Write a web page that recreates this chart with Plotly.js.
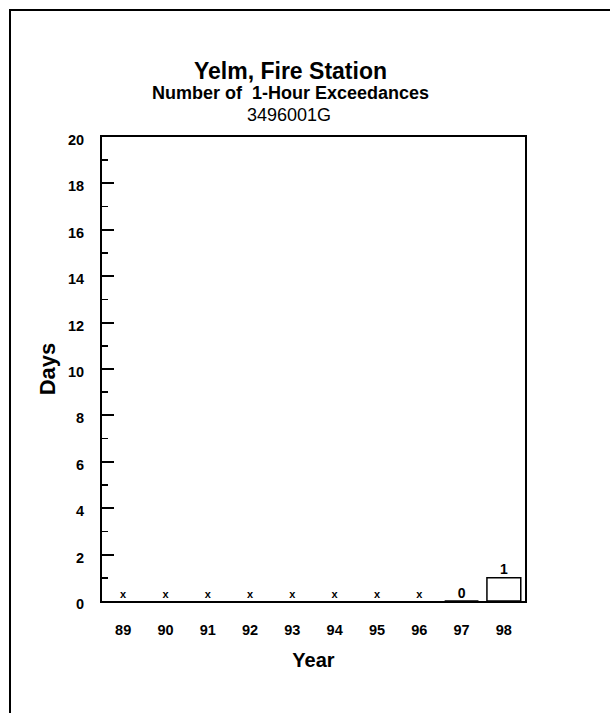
<!DOCTYPE html>
<html>
<head>
<meta charset="utf-8">
<script src="https://cdn.plot.ly/plotly-3.0.1.min.js"></script>
<style>
  html, body { margin: 0; padding: 0; background: #fff; }
  #chart { width: 610px; height: 713px; }
</style>
</head>
<body>
<div id="chart"></div>
<script>
// Exceedance counts per year (null = no data collected that year)
const years = ['89', '90', '91', '92', '93', '94', '95', '96', '97', '98'];
const days = [null, null, null, null, null, null, null, null, 0, 1];
const yTickVals = [0, 2, 4, 6, 8, 10, 12, 14, 16, 18, 20];

const FONT = 'Liberation Sans, Arial, sans-serif';

// plot area geometry (pixels)
const M = { l: 102, r: 85, t: 137, b: 112 };
const PW = 610 - M.l - M.r;
const PH = 713 - M.t - M.b;
const px2x = px => (px - M.l) / PW;
const px2y = py => 1 - (py - M.t) / PH;

// Labels: value for measured years, "x" for years with no data
const labelText = days.map(d => (d === null ? 'x' : String(d)));
const labelY = days.map(d => (d === null ? 0 : d));
const labelSize = days.map(d => (d === null ? 11 : 14));

const bars = {
  type: 'bar',
  x: years,
  y: days,
  width: 0.8,
  marker: { color: '#ffffff', line: { color: '#000000', width: 1.5 } },
  hoverinfo: 'skip'
};

const labels = {
  type: 'scatter',
  mode: 'text',
  x: years,
  y: labelY,
  text: labelText,
  textposition: 'top center',
  textfont: { family: FONT, size: labelSize, color: '#000', weight: 'bold' },
  hoverinfo: 'skip',
  cliponaxis: false
};

const layout = {
  width: 610,
  height: 713,
  margin: M,
  paper_bgcolor: '#ffffff',
  plot_bgcolor: '#ffffff',
  showlegend: false,
  font: { family: FONT, color: '#000' },
  xaxis: {
    type: 'category',
    range: [-0.5, 9.5],
    showline: true,
    linecolor: '#000',
    linewidth: 2,
    mirror: true,
    ticks: '',
    showgrid: false,
    zeroline: false,
    tickfont: { family: FONT, size: 14.5, color: '#000', weight: 'bold' },
    ticklabelstandoff: 15,
    title: {
      text: '<b>Year</b>',
      font: { family: FONT, size: 20, color: '#000' },
      standoff: 16
    },
    fixedrange: true
  },
  yaxis: {
    range: [0, 20],
    tickmode: 'array',
    tickvals: yTickVals,
    ticktext: yTickVals.map(String),
    ticks: 'inside',
    ticklen: 12,
    tickwidth: 2,
    tickcolor: '#000',
    minor: { dtick: 1, ticks: 'inside', ticklen: 6, tickwidth: 1.5, tickcolor: '#000' },
    showline: true,
    linecolor: '#000',
    linewidth: 2,
    mirror: true,
    showgrid: false,
    zeroline: false,
    tickfont: { family: FONT, size: 14.5, color: '#000', weight: 'bold' },
    ticklabelstandoff: 13,
    ticklabelshift: 3,
    title: {
      text: '<b>Days</b>',
      font: { family: FONT, size: 22, color: '#000' },
      standoff: 6
    },
    fixedrange: true
  },
  annotations: [
    {
      text: '<b>Yelm, Fire Station</b>', xref: 'paper', yref: 'paper',
      x: px2x(290), y: px2y(71), xanchor: 'center', yanchor: 'middle', showarrow: false,
      font: { family: FONT, size: 23, color: '#000' }
    },
    {
      text: '<b>Number of  1-Hour Exceedances</b>', xref: 'paper', yref: 'paper',
      x: px2x(290), y: px2y(93), xanchor: 'center', yanchor: 'middle', showarrow: false,
      font: { family: FONT, size: 18, color: '#000' }
    },
    {
      text: '3496001G', xref: 'paper', yref: 'paper',
      x: px2x(289), y: px2y(115), xanchor: 'center', yanchor: 'middle', showarrow: false,
      font: { family: FONT, size: 18, color: '#000' }
    }
  ],
  shapes: [
    // outer page frame
    {
      type: 'rect', xref: 'paper', yref: 'paper',
      x0: px2x(10), x1: px2x(640),
      y0: px2y(740), y1: px2y(10),
      line: { color: '#000', width: 2 },
      fillcolor: 'rgba(0,0,0,0)'
    }
  ]
};

Plotly.newPlot('chart', [bars, labels], layout, { staticPlot: true, displayModeBar: false });
</script>
</body>
</html>
